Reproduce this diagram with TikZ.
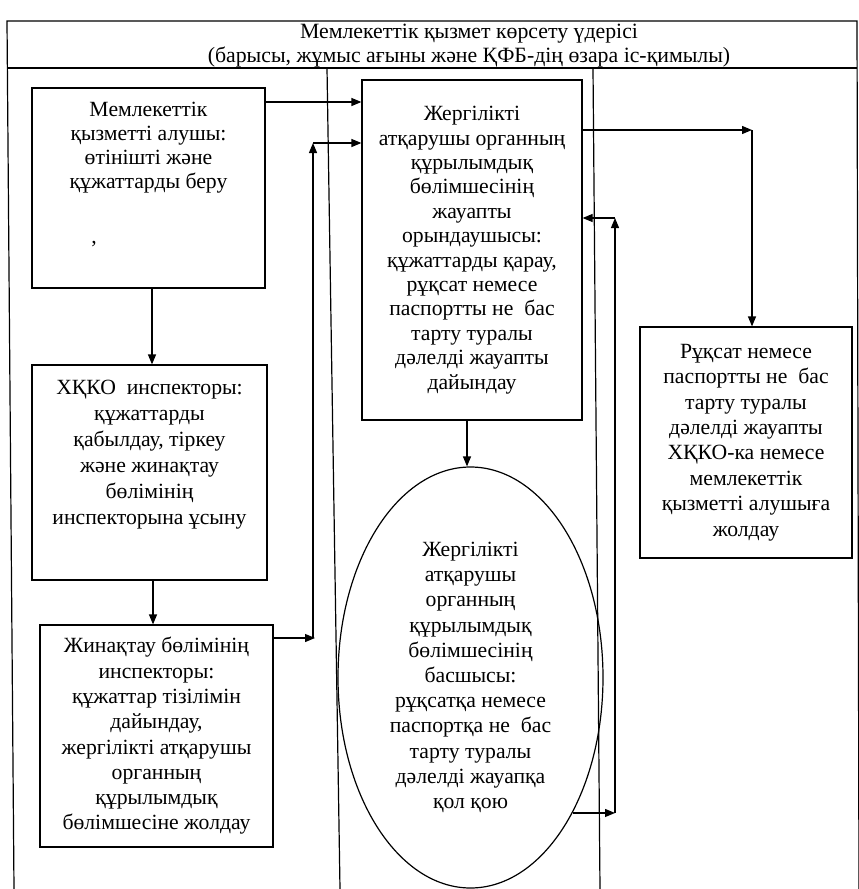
\documentclass[tikz,border=0pt]{standalone}
\usepackage{fontspec}
\setmainfont{Liberation Serif}
\usetikzlibrary{arrows.meta,shapes.geometric}
\begin{document}
\begin{tikzpicture}[x=1pt,y=-1pt,
  frame/.style={line width=1.2pt},
  box/.style={draw,line width=1.2pt,rectangle,inner sep=0pt},
  oval/.style={draw,line width=1.2pt,ellipse,inner sep=0pt},
  txt/.style={align=center,inner sep=0pt},
  fs/.style={font=\fontsize{21.7}{#1}\selectfont},
  arr/.style={line width=1.2pt,-{Triangle[length=10pt,width=8pt]}},
]
\useasboundingbox (0,0) rectangle (859,889);
\fill[white] (0,0) rectangle (859,889);

% outer frame, title band and three lanes
\draw[frame] (14,889) -- (7,21) -- (857,21) -- (859,889);
\draw[frame] (7.4,68) -- (857,68);
\draw[frame] (327,68) -- (340,889);
\draw[frame] (593,68) -- (600,889);

\node[txt,font=\fontsize{21.8}{24.3}\selectfont,anchor=north] (head) at (469,24)
  {Мемлекеттік қызмет көрсету үдерісі\\(барысы, жұмыс ағыны және ҚФБ-дің өзара іс-қимылы)};

% left lane
\node[box,minimum width=233pt,minimum height=200pt] (b1) at (148.5,188) {};
\node[txt,fs=24,anchor=north] (t1) at (148.5,102)
  {Мемлекеттік\\қызметті алушы:\\өтінішті және\\құжаттарды беру};
\node[txt,fs=24] (mark) at (94,244) {,};

\node[box,minimum width=235pt,minimum height=215pt] (b2) at (149.5,472.5) {};
\node[txt,fs=26,anchor=north] (t2) at (149.5,380)
  {ХҚКО\ \ инспекторы:\\құжаттарды\\қабылдау, тіркеу\\және жинақтау\\бөлімінің\\инспекторына ұсыну};

\node[box,txt,fs=25.3,minimum width=233pt,minimum height=222pt] (b3) at (156.5,736)
  {Жинақтау бөлімінің\\инспекторы:\\құжаттар тізілімін\\дайындау,\\жергілікті атқарушы\\органның\\құрылымдық\\бөлімшесіне жолдау};

% middle lane
\node[box,txt,fs=24.4,minimum width=220pt,minimum height=340pt] (mid) at (472,250)
  {Жергілікті\\атқарушы органның\\құрылымдық\\бөлімшесінің\\жауапты\\орындаушысы:\\құжаттарды қарау,\\рұқсат немесе\\паспортты не\ \ бас\\тарту туралы\\дәлелді жауапты\\дайындау};

\node[oval,txt,fs=25.2,minimum width=265pt,minimum height=421pt] (ell) at (470.5,677.5)
  {Жергілікті\\атқарушы\\органның\\құрылымдық\\бөлімшесінің\\басшысы:\\рұқсатқа немесе\\паспортқа не\ \ бас\\тарту туралы\\дәлелді жауапқа\\қол қою};

% right lane
\node[box,txt,fs=25.4,minimum width=212pt,minimum height=231pt] (rb) at (746,442.5)
  {Рұқсат немесе\\паспортты не\ \ бас\\тарту туралы\\дәлелді жауапты\\ХҚКО-ка немесе\\мемлекеттік\\қызметті алушыға\\жолдау};

% routing levels of the connectors
\coordinate (yA) at (0,102);
\coordinate (yB) at (0,143);
\coordinate (yC) at (0,130);
\coordinate (yD) at (0,218);
\coordinate (yE) at (0,638);
\coordinate (xL) at (313,0);
\coordinate (xR) at (752,0);
\coordinate (xS) at (615,0);

% connectors
\draw[arr] (b1.east |- yA) -- (mid.west |- yA);
\draw[arr] (b1.south -| 152,0) -- (b2.north -| 152,0);
\draw[arr] (b2.south -| 153,0) -- (b3.north -| 153,0);

\draw[arr] (b3.east |- yE) -- ([xshift=2pt]xL |- yE);
\draw[arr] (xL |- yE) -- (xL |- yB);
\draw[arr] (xL |- yB) -- (mid.west |- yB);

\draw[arr] (mid.east |- yC) -- (xR |- yC);
\draw[arr] (xR |- yC) -- (rb.north -| xR);

\draw[arr] (mid.south -| 467,0) -- (ell.north -| 467,0);

\draw[arr] (ell.-53) -- (ell.-53 -| xS);
\draw[arr] (ell.-53 -| xS) -- (xS |- yD);
\draw[arr] (xS |- yD) -- (mid.east |- yD);
\end{tikzpicture}
\end{document}
